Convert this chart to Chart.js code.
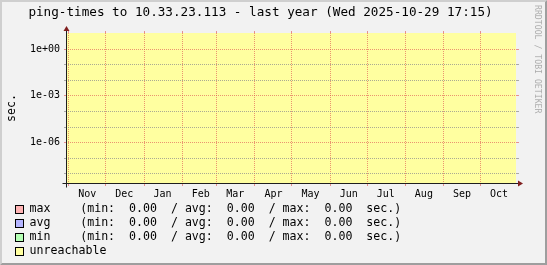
<!DOCTYPE html>
<html>
<head>
<meta charset="utf-8">
<script src="https://cdn.jsdelivr.net/npm/chart.js@4/dist/chart.umd.min.js"></script>
<style>
html,body{margin:0;padding:0;background:#f2f2f2;}
#wrap{position:relative;width:547px;height:265px;overflow:hidden;font-family:"DejaVu Sans Mono",monospace;color:#000;}
#c{position:absolute;left:0;top:0;}
.lg{position:absolute;font-size:11.6px;line-height:14px;white-space:pre;}
.box{position:absolute;width:7px;height:7px;border:1px solid #000;}
#ylab{position:absolute;left:11px;top:108px;font-size:11.6px;line-height:14px;white-space:pre;transform:translate(-50%,-50%) rotate(-90deg);}
#wm{position:absolute;left:541.9px;top:5px;font-size:8.2px;line-height:8.2px;white-space:pre;color:rgba(0,0,0,0.3);transform-origin:0 0;transform:rotate(90deg);}
</style>
</head>
<body>
<div id="wrap">
  <canvas id="c" width="547" height="265"></canvas>
  <div id="ylab">sec.</div>
  <div id="wm">RRDTOOL / TOBI OETIKER</div>
  <div id="legend"></div>
</div>
<script>
// ---------------- data ----------------
const titleText = 'ping-times to 10.33.23.113 - last year (Wed 2025-10-29 17:15)';
const yUnit = 'sec.';
const sampleTimes = ['2024-10-29T17:15:00Z', '2025-10-29T17:15:00Z'];
const maxSec = [0, 0];
const avgSec = [0, 0];
const minSec = [0, 0];
const unreachable = [1, 1];
const monthLabels = ['Nov','Dec','Jan','Feb','Mar','Apr','May','Jun','Jul','Aug','Sep','Oct'];
const monthStarts = ['2024-11-01','2024-12-01','2025-01-01','2025-02-01','2025-03-01','2025-04-01',
                     '2025-05-01','2025-06-01','2025-07-01','2025-08-01','2025-09-01','2025-10-01'];
const yTickValues = [1, 1e-3, 1e-6];
const yTickLabels = ['1e+00', '1e-03', '1e-06'];
const yGridDecades = [1, 1e-1, 1e-2, 1e-3, 1e-4, 1e-5, 1e-6, 1e-7, 1e-8];
const legendNames = ['max', 'avg', 'min', 'unreachable'];
const legendColors = ['#ffb4b4', '#b4b4ff', '#b4ffb4', '#ffffa0'];

// ---------------- helpers ----------------
const DAY = 86400000;
const ORIGIN = Date.UTC(2024, 10, 1);
const dayOf = iso => (Date.parse(iso) - ORIGIN) / DAY;
const X_MIN = dayOf(sampleTimes[0]);
const X_MAX = dayOf(sampleTimes[sampleTimes.length - 1]);
const Y_MIN = 2.6e-9, Y_MAX = 10.7;
const GRID = 'rgba(143,143,143,0.75)';
const MGRID = 'rgba(222,79,79,0.6)';
const FONT = 'DejaVu Sans Mono';
const LABEL_OFFSET_DAYS = 15;
const sameDecade = (a, b) => Math.abs(Math.log10(a) - Math.log10(b)) < 1e-6;
const isMajorY = v => yTickValues.some(t => sameDecade(t, v));

// ---------------- legend (HTML text) ----------------
const fmt = v => v.toFixed(2).padStart(6);
const stats = arr => {
  const mn = Math.min(...arr), mx = Math.max(...arr);
  const av = arr.reduce((s, v) => s + v, 0) / arr.length;
  return `(min:${fmt(mn)}  / avg:${fmt(av)}  / max:${fmt(mx)}  ${yUnit})`;
};
const seriesArrays = [maxSec, avgSec, minSec, null];
const lg = document.getElementById('legend');
legendNames.forEach((name, i) => {
  const box = document.createElement('div');
  box.className = 'box';
  box.style.left = '15px';
  box.style.top = (205 + 14 * i) + 'px';
  box.style.background = legendColors[i];
  lg.appendChild(box);
  const l = document.createElement('div');
  l.className = 'lg';
  l.style.left = '29.6px';
  l.style.top = (201.3 + 14 * i) + 'px';
  l.textContent = name;
  lg.appendChild(l);
  if (seriesArrays[i]) {
    const s = document.createElement('div');
    s.className = 'lg';
    s.style.left = '80.2px';
    s.style.top = (201.3 + 14 * i) + 'px';
    s.textContent = stats(seriesArrays[i]);
    lg.appendChild(s);
  }
});

// ---------------- chart ----------------
const toLog = v => (v > 0 ? v : null);
const pts = (arr, f) => sampleTimes.map((t, i) => ({ x: dayOf(t), y: f(arr[i]) }));

const frame = {
  id: 'rrdFrame',
  beforeDraw(chart) {
    const { ctx, width: W, height: H } = chart;
    ctx.save();
    ctx.fillStyle = '#f2f2f2';
    ctx.fillRect(0, 0, W, H);
    ctx.fillStyle = '#cfcfcf';
    ctx.beginPath();
    ctx.moveTo(0, H); ctx.lineTo(2, H - 2); ctx.lineTo(2, 2); ctx.lineTo(W - 2, 2); ctx.lineTo(W, 0); ctx.lineTo(0, 0);
    ctx.closePath(); ctx.fill();
    ctx.fillStyle = '#9e9e9e';
    ctx.beginPath();
    ctx.moveTo(2, H - 2); ctx.lineTo(W - 2, H - 2); ctx.lineTo(W - 2, 2); ctx.lineTo(W, 0); ctx.lineTo(W, H); ctx.lineTo(0, H);
    ctx.closePath(); ctx.fill();
    ctx.restore();
  },
  afterDraw(chart) {
    const { ctx } = chart;
    const a = chart.chartArea;
    const L = a.left + 0.5, R = a.right, T = a.top, B = a.bottom + 0.5;
    ctx.save();
    ctx.strokeStyle = '#1f1f1f';
    ctx.lineWidth = 1;
    ctx.beginPath();
    ctx.moveTo(L - 4, B); ctx.lineTo(R + 4, B);
    ctx.moveTo(L, B + 4); ctx.lineTo(L, T - 4);
    ctx.stroke();
    ctx.fillStyle = '#801f1f';
    ctx.beginPath();
    ctx.moveTo(R + 2, B - 3); ctx.lineTo(R + 2, B + 3); ctx.lineTo(R + 7, B); ctx.closePath(); ctx.fill();
    ctx.beginPath();
    ctx.moveTo(L - 3, T - 2); ctx.lineTo(L + 3, T - 2); ctx.lineTo(L, T - 7); ctx.closePath(); ctx.fill();
    ctx.restore();
  }
};

const xTicks = monthStarts.map(d => ({ value: dayOf(d + 'T00:00:00Z'), kind: 'start', text: '' }))
  .concat(monthStarts.map((d, i) => ({ value: dayOf(d + 'T00:00:00Z') + LABEL_OFFSET_DAYS, kind: 'label', text: monthLabels[i] })))
  .sort((p, q) => p.value - q.value);

const monthGridColor = c => (c.tick && c.tick.kind === 'start' ? MGRID : 'rgba(0,0,0,0)');
const yGridColor = c => (c.tick && isMajorY(c.tick.value) ? MGRID : GRID);

new Chart(document.getElementById('c'), {
  type: 'line',
  data: {
    datasets: [
      { label: 'max', data: pts(maxSec, toLog), borderColor: '#ff0000', borderWidth: 1, pointRadius: 0, fill: false, xAxisID: 'x', yAxisID: 'y' },
      { label: 'avg', data: pts(avgSec, toLog), borderColor: '#0000ff', borderWidth: 1, pointRadius: 0, fill: false, xAxisID: 'x', yAxisID: 'y' },
      { label: 'min', data: pts(minSec, toLog), borderColor: '#00aa00', borderWidth: 1, pointRadius: 0, fill: false, xAxisID: 'x', yAxisID: 'y' },
      { label: 'unreachable', data: pts(unreachable, f => (f ? Y_MAX : null)), borderWidth: 0, borderColor: 'rgba(0,0,0,0)',
        backgroundColor: legendColors[3], pointRadius: 0, fill: 'start', tension: 0, xAxisID: 'x', yAxisID: 'y' }
    ]
  },
  options: {
    responsive: false,
    animation: false,
    devicePixelRatio: 1,
    layout: { padding: { left: 2, right: 28, top: 0, bottom: 0 } },
    plugins: {
      legend: { display: false },
      tooltip: { enabled: false },
      title: {
        display: true, text: titleText, color: '#000',
        font: { family: FONT, size: 12.65, weight: 'normal' },
        padding: { top: 5.5, bottom: 10.32 }
      }
    },
    scales: {
      x: {
        type: 'linear', position: 'bottom', min: X_MIN, max: X_MAX, weight: 0,
        afterBuildTicks: s => { s.ticks = xTicks.map(t => ({ ...t })); },
        afterFit: s => { s.height = 82; },
        grid: { z: 1, color: monthGridColor, tickColor: monthGridColor, lineWidth: 1, tickLength: 3, offset: false },
        border: { display: false, dash: [1, 1] },
        ticks: {
          autoSkip: false, maxRotation: 0, minRotation: 0, padding: 2, color: '#000',
          font: { family: FONT, size: 10 },
          callback: (v, i, ticks) => ticks[i].text || ''
        }
      },
      x2: {
        type: 'linear', position: 'top', min: X_MIN, max: X_MAX,
        afterBuildTicks: s => { s.ticks = xTicks.filter(t => t.kind === 'start').map(t => ({ ...t })); },
        afterFit: s => { s.height = 2; },
        grid: { z: 1, drawOnChartArea: false, color: MGRID, tickColor: MGRID, tickLength: 2 },
        border: { display: false },
        ticks: { display: false }
      },
      y: {
        type: 'logarithmic', position: 'left', min: Y_MIN, max: Y_MAX,
        afterBuildTicks: s => { s.ticks = yGridDecades.map(v => ({ value: v })); },
        afterFit: s => { s.width = 64; },
        grid: { z: 1, color: yGridColor, tickColor: yGridColor, lineWidth: 1, tickLength: 2 },
        border: { display: false, dash: [1, 1] },
        ticks: {
          autoSkip: false, padding: 4, color: '#000',
          font: { family: FONT, size: 10 },
          callback: v => {
            const k = yTickValues.findIndex(t => sameDecade(t, v));
            return k >= 0 ? yTickLabels[k] : '';
          }
        }
      },
      y2: {
        type: 'logarithmic', position: 'right', min: Y_MIN, max: Y_MAX,
        afterBuildTicks: s => { s.ticks = yGridDecades.map(v => ({ value: v })); },
        afterFit: s => { s.width = 3; },
        grid: { z: 1, drawOnChartArea: false, color: yGridColor, tickColor: yGridColor, tickLength: 3 },
        border: { display: false },
        ticks: { display: false }
      }
    }
  },
  plugins: [frame]
});
</script>
</body>
</html>
